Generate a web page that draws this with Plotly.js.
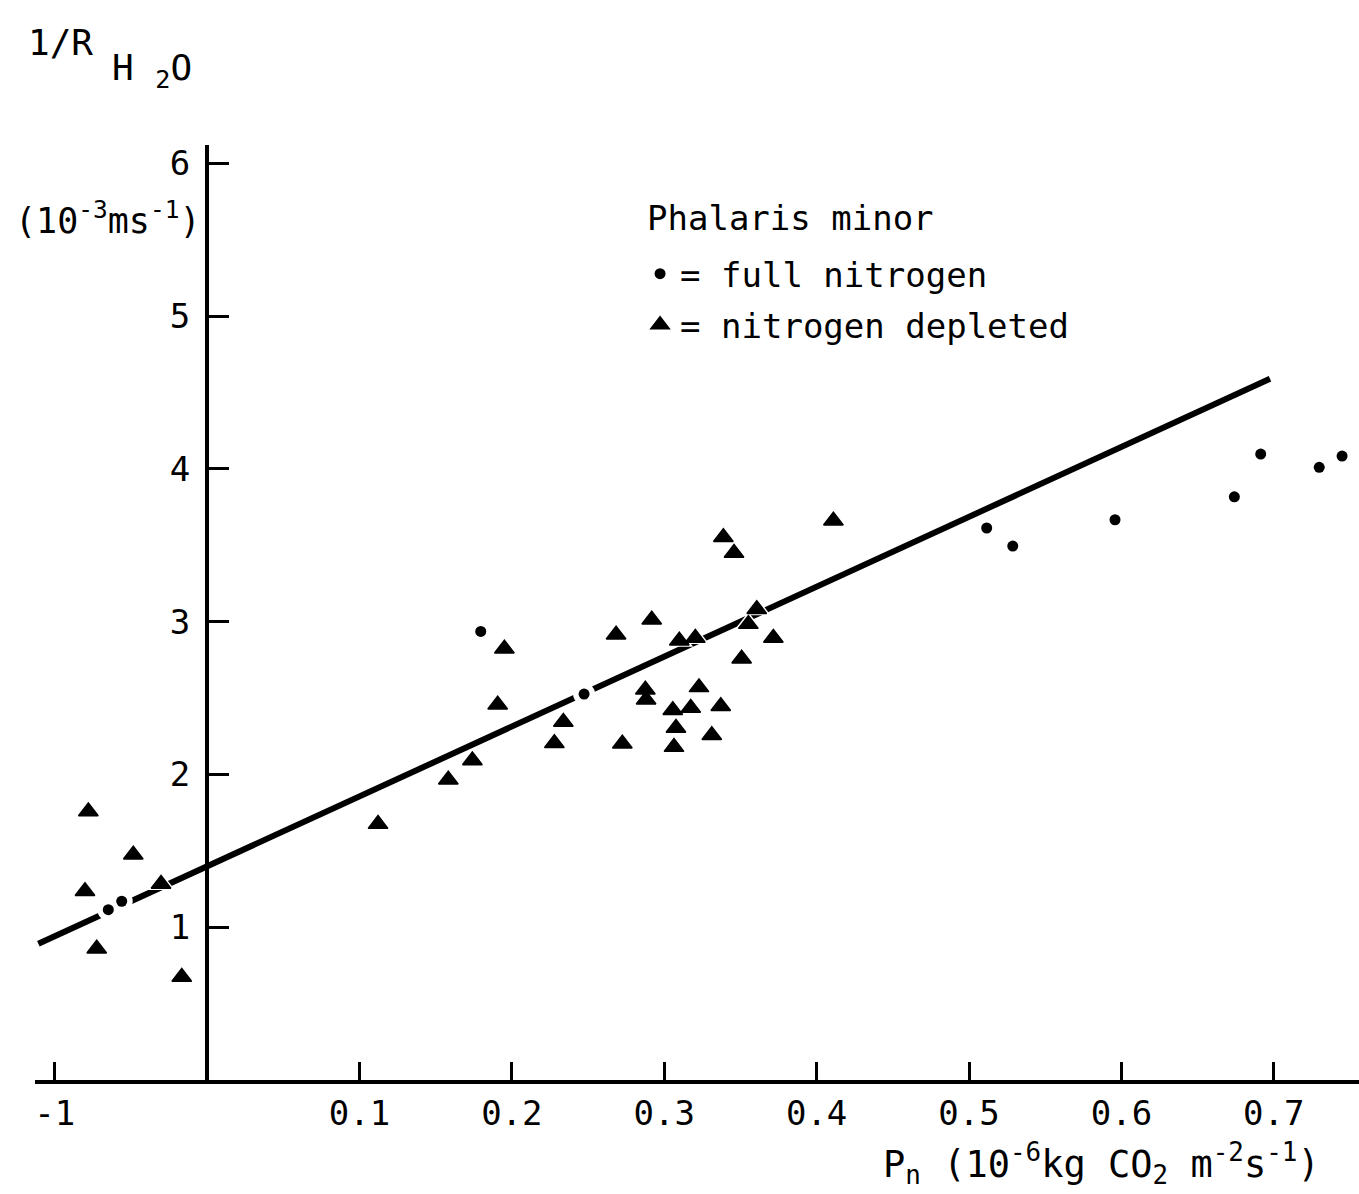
<!DOCTYPE html>
<html>
<head>
<meta charset="utf-8">
<script src="https://cdn.plot.ly/plotly-3.0.1.min.js"></script>
<style>html,body{margin:0;padding:0;background:#fff;}#chart{width:1359px;height:1194px;}</style>
</head>
<body>
<div id="chart"></div>
<script>
// Full nitrogen (dots)
const fullX = [-0.0648, -0.0560, 0.1796, 0.2474, 0.5116, 0.5287, 0.5958, 0.6741, 0.6914, 0.7298, 0.7448];
const fullY = [1.115, 1.170, 2.936, 2.526, 3.613, 3.495, 3.667, 3.817, 4.097, 4.010, 4.084];

// Nitrogen depleted (triangles)
const deplX = [-0.0779, -0.0484, -0.0801, -0.0302, -0.0724, -0.0166, 0.1122, 0.1583, 0.1741, 0.1907,
               0.1951, 0.2279, 0.2338, 0.2684, 0.2725, 0.2876, 0.2881, 0.2918, 0.3056, 0.3077,
               0.3064, 0.3099, 0.3174, 0.3204, 0.3228, 0.3312, 0.3371, 0.3388, 0.3458, 0.3508,
               0.3552, 0.3607, 0.3716, 0.4110];
const deplY = [1.758, 1.475, 1.235, 1.283, 0.859, 0.674, 1.675, 1.965, 2.092, 2.456,
               2.823, 2.205, 2.343, 2.914, 2.201, 2.554, 2.489, 3.012, 2.421, 2.304,
               2.179, 2.875, 2.435, 2.893, 2.570, 2.256, 2.446, 3.552, 3.449, 2.757,
               2.984, 3.082, 2.893, 3.660];

// Fitted line end points
const lineX = [-0.1107, 0.6975];
const lineY = [0.892, 4.590];

// Axis ticks
const xTickVals = [-0.1, 0.1, 0.2, 0.3, 0.4, 0.5, 0.6, 0.7];
const xTickText = ["-1", "0.1", "0.2", "0.3", "0.4", "0.5", "0.6", "0.7"];
const yTickVals = [1, 2, 3, 4, 5, 6];
const yTickText = ["1", "2", "3", "4", "5", "6"];

const xRange = [-0.1129, 0.7559];
const yRange = [0, 6.12];

const FONT = "DejaVu Sans Mono, monospace";

const traces = [
  {
    x: lineX, y: lineY, mode: "lines", type: "scatter",
    line: {color: "#000", width: 6}, showlegend: false, hoverinfo: "skip"
  },
  // white halos that break the line around the marks
  {
    x: deplX, y: deplY, mode: "markers", type: "scatter", showlegend: false, hoverinfo: "skip",
    marker: {symbol: "triangle-up", size: 24, color: "#fff"}
  },
  {
    x: fullX, y: fullY, mode: "markers", type: "scatter", showlegend: false, hoverinfo: "skip",
    marker: {symbol: "circle", size: 22, color: "#fff"}
  },
  {
    x: fullX, y: fullY, mode: "markers", type: "scatter",
    name: "= full nitrogen", legendgroup: "a",
    marker: {symbol: "circle", size: 11, color: "#000"}
  },
  {
    x: deplX, y: deplY, mode: "markers", type: "scatter",
    name: "= nitrogen depleted", legendgroup: "b",
    marker: {symbol: "triangle-up", size: 17, color: "#000", line: {color: "#000", width: 1.5}}
  }
];

const layout = {
  width: 1359, height: 1194,
  margin: {l: 35, r: 0, t: 145, b: 114, pad: 0},
  paper_bgcolor: "#fff", plot_bgcolor: "#fff",
  font: {family: FONT, size: 34, color: "#000"},
  xaxis: {
    range: xRange, showgrid: false, zeroline: false,
    showline: true, linecolor: "#000", linewidth: 4,
    ticks: "inside", ticklen: 18, tickwidth: 3, tickcolor: "#000",
    tickvals: xTickVals, ticktext: xTickText,
    tickfont: {family: FONT, size: 34, color: "#000"}
  },
  yaxis: {
    range: yRange, showgrid: false, zeroline: false,
    anchor: "free", position: (0 - xRange[0]) / (xRange[1] - xRange[0]),
    showline: true, linecolor: "#000", linewidth: 4,
    ticks: "inside", ticklen: 20, tickwidth: 3, tickcolor: "#000",
    tickvals: yTickVals, ticktext: yTickText, ticklabelstandoff: 8,
    tickfont: {family: FONT, size: 34, color: "#000"}
  },
  showlegend: true,
  legend: {
    x: 0.457, y: 0.893, xanchor: "left", yanchor: "top",
    bgcolor: "rgba(0,0,0,0)", borderwidth: 0,
    font: {family: FONT, size: 34, color: "#000"},
    traceorder: "grouped", tracegroupgap: 4
  },
  annotations: [
    {text: "Phalaris minor", xref: "paper", yref: "paper", x: 0.4607, y: (1080 - 218) / 935,
     xanchor: "left", yanchor: "middle", showarrow: false,
     font: {family: FONT, size: 34, color: "#000"}},
    {text: "1/R", xref: "paper", yref: "paper", x: -0.0068, y: 1.110,
     xanchor: "left", yanchor: "middle", showarrow: false,
     font: {family: FONT, size: 36, color: "#000"}},
    {text: "H <sub>2</sub>O", xref: "paper", yref: "paper", x: 0.0566, y: 1.080,
     xanchor: "left", yanchor: "middle", showarrow: false,
     font: {family: FONT, size: 36, color: "#000"}},
    {text: "(10<sup>-3</sup>ms<sup>-1</sup>)", xref: "paper", yref: "paper", x: -0.0166, y: 0.922,
     xanchor: "left", yanchor: "middle", showarrow: false,
     font: {family: FONT, size: 35, color: "#000"}},
    {text: "P<sub>n</sub> (10<sup>-6</sup>kg CO<sub>2</sub> m<sup>-2</sup>s<sup>-1</sup>)",
     xref: "paper", yref: "paper", x: 0.9721, y: -0.0888,
     xanchor: "right", yanchor: "middle", showarrow: false,
     font: {family: FONT, size: 37, color: "#000"}}
  ]
};

Plotly.newPlot("chart", traces, layout, {displayModeBar: false, staticPlot: true});
</script>
</body>
</html>
